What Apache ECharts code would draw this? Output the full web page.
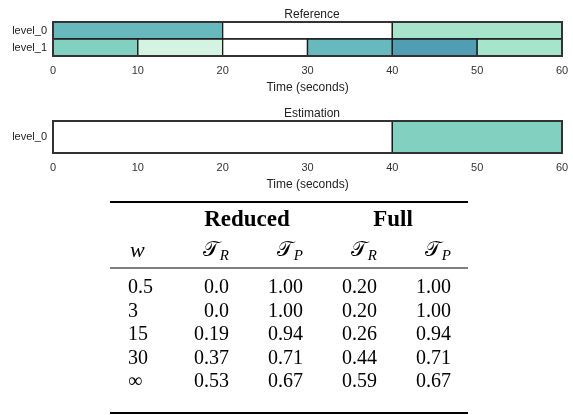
<!DOCTYPE html>
<html>
<head>
<meta charset="utf-8">
<script src="https://cdn.jsdelivr.net/npm/echarts@6/dist/echarts.min.js"></script>
<style>
  html, body { margin: 0; padding: 0; background: #fff; }
  #main { width: 573px; height: 415px; }
</style>
</head>
<body>
<div id="main"></div>
<script>
// segmentation data: [start, end, state]  (state null = no segment)
var refLevels = ['level_0', 'level_1'];
var refLevel0 = [[0, 20, 'a'], [20, 40, null], [40, 60, 'b']];
var refLevel1 = [[0, 10, 'c'], [10, 20, 'd'], [20, 30, null], [30, 40, 'a'], [40, 50, 'e'], [50, 60, 'b']];
var estLevels = ['level_0'];
var estLevel0 = [[0, 40, null], [40, 60, 'c']];

// table data
var groupNames = ['Reduced', 'Full'];
var wValues = ['0.5', '3', '15', '30', '\u221e'];
var reducedTR = ['0.0', '0.0', '0.19', '0.37', '0.53'];
var reducedTP = ['1.00', '1.00', '0.94', '0.71', '0.67'];
var fullTR = ['0.20', '0.20', '0.26', '0.44', '0.59'];
var fullTP = ['1.00', '1.00', '0.94', '0.71', '0.67'];

var palette = { a: '#67b9bd', b: '#a6e5cc', c: '#82d1c0', d: '#d5f3e2', e: '#519db4' };

var chart = echarts.init(document.getElementById('main'));

function flatten(levels, rows) {
  var items = [];
  rows.forEach(function (segs, i) {
    segs.forEach(function (s) {
      items.push([levels[i], s[0], s[1], s[2]]);
    });
  });
  return items;
}
var refItems = flatten(refLevels, [refLevel0, refLevel1]);
var estItems = flatten(estLevels, [estLevel0]);

function segRenderer(items) {
  return function (params, api) {
    var cat = api.value(0);
    var p0 = api.coord([api.value(1), cat]);
    var p1 = api.coord([api.value(2), cat]);
    var h = api.size([0, 1])[1];
    var st = items[params.dataIndex][3];
    return {
      type: 'rect',
      shape: { x: p0[0], y: p0[1] - h / 2, width: p1[0] - p0[0], height: h },
      style: { fill: st ? palette[st] : '#fff', stroke: '#1a1a1a', lineWidth: 1.3 }
    };
  };
}

var sans = 'Liberation Sans, Arial, sans-serif';
var serif = 'Liberation Serif, Times New Roman, serif';

function xAxisFor(gi) {
  return {
    type: 'value', gridIndex: gi, min: 0, max: 60, interval: 10,
    axisLine: { show: false }, axisTick: { show: false }, splitLine: { show: false },
    axisLabel: { fontFamily: sans, fontSize: 11, color: '#333', margin: 9 },
    name: 'Time (seconds)', nameLocation: 'middle', nameGap: 26,
    nameTextStyle: { fontFamily: sans, fontSize: 12, color: '#222' }
  };
}
function yAxisFor(gi, levels) {
  return {
    type: 'category', gridIndex: gi, data: levels, inverse: true,
    axisLine: { show: false }, axisTick: { show: false }, splitLine: { show: false },
    axisLabel: { fontFamily: sans, fontSize: 11, color: '#222', margin: 6 }
  };
}

// table layout
var colRight = [0, 229, 303, 377, 451];
var wLeft = 128;
var rowY = [288, 311.5, 335, 358.5, 382];
var tblLeft = 110, tblRight = 468;
var numFont = '20px ' + serif;
var cols = [reducedTR, reducedTP, fullTR, fullTP];
var subs = ['R', 'P', 'R', 'P'];

var graphics = [];
function rule(y, w) {
  graphics.push({ type: 'line', shape: { x1: tblLeft, y1: y, x2: tblRight, y2: y },
    style: { stroke: '#000', lineWidth: w } });
}
rule(202, 2);
rule(268, 1.2);
rule(413, 2);
graphics.push({ type: 'text', x: 247, y: 220,
  style: { text: groupNames[0], font: 'bold 23px ' + serif, fill: '#000', align: 'center', verticalAlign: 'middle' } });
graphics.push({ type: 'text', x: 393, y: 220,
  style: { text: groupNames[1], font: 'bold 23px ' + serif, fill: '#000', align: 'center', verticalAlign: 'middle' } });
graphics.push({ type: 'text', x: wLeft + 2, y: 251,
  style: { text: 'w', font: 'italic 22px ' + serif, fill: '#000', align: 'left', verticalAlign: 'middle' } });
subs.forEach(function (s, i) {
  graphics.push({ type: 'text', x: colRight[i + 1] - 10, y: 250,
    style: { text: '\ud835\udcaf', font: '21px ' + serif, fill: '#000', align: 'right', verticalAlign: 'middle' } });
  graphics.push({ type: 'text', x: colRight[i + 1], y: 256,
    style: { text: s, font: 'italic 15px ' + serif, fill: '#000', align: 'right', verticalAlign: 'middle' } });
});
wValues.forEach(function (v, r) {
  graphics.push({ type: 'text', x: wLeft, y: rowY[r],
    style: { text: v, font: numFont, fill: '#000', align: 'left', verticalAlign: 'middle' } });
  cols.forEach(function (col, c) {
    graphics.push({ type: 'text', x: colRight[c + 1], y: rowY[r],
      style: { text: col[r], font: numFont, fill: '#000', align: 'right', verticalAlign: 'middle' } });
  });
});

var option = {
  animation: false,
  title: [
    { text: 'Reference', left: 307, top: 4, textAlign: 'center',
      textStyle: { fontFamily: sans, fontSize: 12, fontWeight: 'normal', color: '#222' } },
    { text: 'Estimation', left: 307, top: 103, textAlign: 'center',
      textStyle: { fontFamily: sans, fontSize: 12, fontWeight: 'normal', color: '#222' } }
  ],
  grid: [
    { left: 53, right: 11, top: 22, height: 34, show: true, borderColor: '#333', borderWidth: 2,
      backgroundColor: 'transparent', z: 10 },
    { left: 53, right: 11, top: 121, height: 32, show: true, borderColor: '#333', borderWidth: 2,
      backgroundColor: 'transparent', z: 10 }
  ],
  xAxis: [xAxisFor(0), xAxisFor(1)],
  yAxis: [yAxisFor(0, refLevels), yAxisFor(1, estLevels)],
  series: [
    { type: 'custom', xAxisIndex: 0, yAxisIndex: 0, renderItem: segRenderer(refItems),
      encode: { x: [1, 2], y: 0 }, data: refItems },
    { type: 'custom', xAxisIndex: 1, yAxisIndex: 1, renderItem: segRenderer(estItems),
      encode: { x: [1, 2], y: 0 }, data: estItems }
  ],
  graphic: graphics
};
chart.setOption(option);
</script>
</body>
</html>
